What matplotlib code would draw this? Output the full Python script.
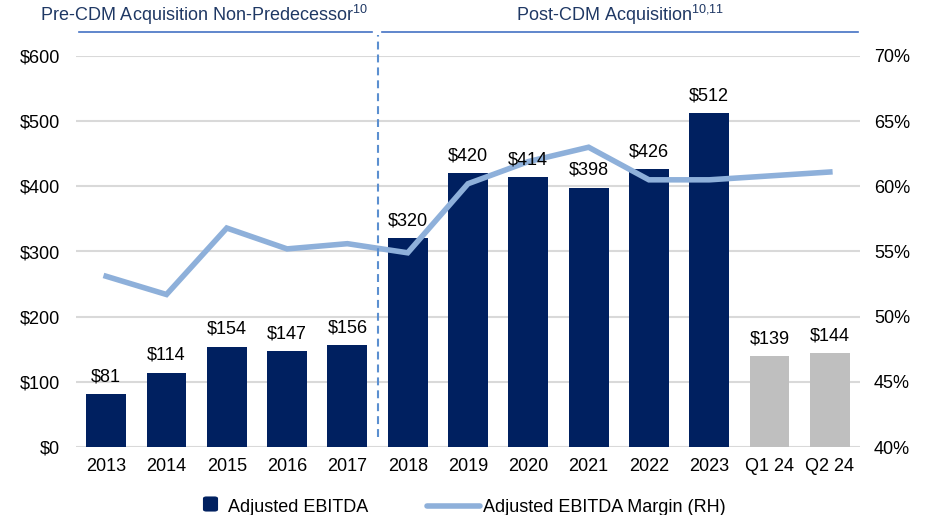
import matplotlib
matplotlib.use("Agg")
import matplotlib.pyplot as plt
from matplotlib.lines import Line2D
from matplotlib.patches import FancyBboxPatch
import matplotlib.transforms as mtransforms

plt.rcParams['font.family'] = ['Liberation Sans', 'DejaVu Sans']
plt.rcParams['mathtext.fontset'] = 'custom'
plt.rcParams['mathtext.rm'] = 'Liberation Sans'
plt.rcParams['mathtext.it'] = 'Liberation Sans'

categories = ["2013", "2014", "2015", "2016", "2017", "2018", "2019", "2020",
              "2021", "2022", "2023", "Q1 24", "Q2 24"]
ebitda = [81, 114, 154, 147, 156, 320, 420, 414, 398, 426, 512, 139, 144]
margin = [53.1, 51.7, 56.8, 55.2, 55.6, 54.9, 60.2, 61.9, 63.0, 60.5, 60.5, 60.8, 61.1]
is_quarter = [False] * 11 + [True, True]
left_ticks = [0, 100, 200, 300, 400, 500, 600]
right_ticks = [40, 45, 50, 55, 60, 65, 70]
legend_labels = ["Adjusted EBITDA", "Adjusted EBITDA Margin (RH)"]

NAVY = "#002060"
GRAY = "#BFBFBF"
LINE = "#8EB0DA"
HEAD = "#1F3864"
HEADLINE = "#4472C4"
DASH = "#5B8FD0"

W, H = 932, 515
fig = plt.figure(figsize=(W/100, H/100), dpi=100)
ax = fig.add_axes([76/W, 1-447/H, (860-76)/W, (447-56)/H])
ax2 = ax.twinx()

x = list(range(len(categories)))
colors = [GRAY if q else NAVY for q in is_quarter]
ax.bar(x, ebitda, width=0.66, color=colors, zorder=2)
ax.set_ylim(0, 600)
ax.set_xlim(-0.5, len(categories) - 0.5)
ax.set_yticks(left_ticks)
ax.set_yticklabels([f"${v}" for v in left_ticks])
ax.grid(axis='y', color='#D9D9D9', linewidth=1.5, zorder=0)
ax.set_axisbelow(True)
ax.set_xticks(x)
ax.set_xticklabels(categories)
for a in (ax, ax2):
    for s in a.spines.values():
        s.set_visible(False)
    a.tick_params(length=0, labelsize=13, colors='black')
ax.tick_params(axis='x', pad=8)
ax.tick_params(axis='y', pad=11.5)

ax2.plot(x, margin, color=LINE, linewidth=4, solid_joinstyle='miter', zorder=3)
ax2.set_ylim(40, 70)
ax2.set_yticks(right_ticks)
ax2.set_yticklabels([f"{v}%" for v in right_ticks])
ax2.tick_params(axis='y', pad=10)

# data labels (on top of line)
for xi, v in zip(x, ebitda):
    ax2.text(xi, v + 14, f"${v}", transform=ax.transData, ha='center', va='bottom',
             fontsize=13, zorder=5)

# dashed divider
trans = mtransforms.blended_transform_factory(ax.transData, ax.transAxes)
ax2.plot([4.5, 4.5], [(447-437)/391, (447-35)/391], transform=trans, color=DASH,
         linestyle=(0, (3.8, 2.4)), linewidth=1.5, clip_on=False, zorder=4)

# header lines and titles
ax2.plot([-0.45, 4.41], [1.061, 1.061], transform=trans, color=HEADLINE, linewidth=1.2,
         clip_on=False)
ax2.plot([4.57, 12.47], [1.061, 1.061], transform=trans, color=HEADLINE, linewidth=1.2,
         clip_on=False)
ax2.text(1.62, 1.105, r"Pre-CDM Acquisition Non-Predecessor$^{10}$", transform=trans,
         ha='center', va='center', fontsize=13, color=HEAD)
ax2.text(8.52, 1.105, r"Post-CDM Acquisition$^{10{,}11}$", transform=trans,
         ha='center', va='center', fontsize=13, color=HEAD)

# legend (manual, figure pixel positions)
def fx(px):
    return px / W

def fy(py):
    return 1 - py / H

fig.patches.append(FancyBboxPatch((fx(203.5), fy(511)), fx(14), 14/H,
                                  boxstyle="round,pad=0,rounding_size=0.003",
                                  transform=fig.transFigure, facecolor=NAVY,
                                  edgecolor=NAVY, linewidth=0.8))
fig.lines.append(Line2D([fx(427), fx(480)], [fy(505.5), fy(505.5)],
                        transform=fig.transFigure, color=LINE, linewidth=4,
                        solid_capstyle='round'))
fig.text(fx(228), fy(512), legend_labels[0], ha='left', va='baseline', fontsize=13)
fig.text(fx(483), fy(512), legend_labels[1], ha='left', va='baseline', fontsize=13)

fig.savefig("out.png", dpi=100)
